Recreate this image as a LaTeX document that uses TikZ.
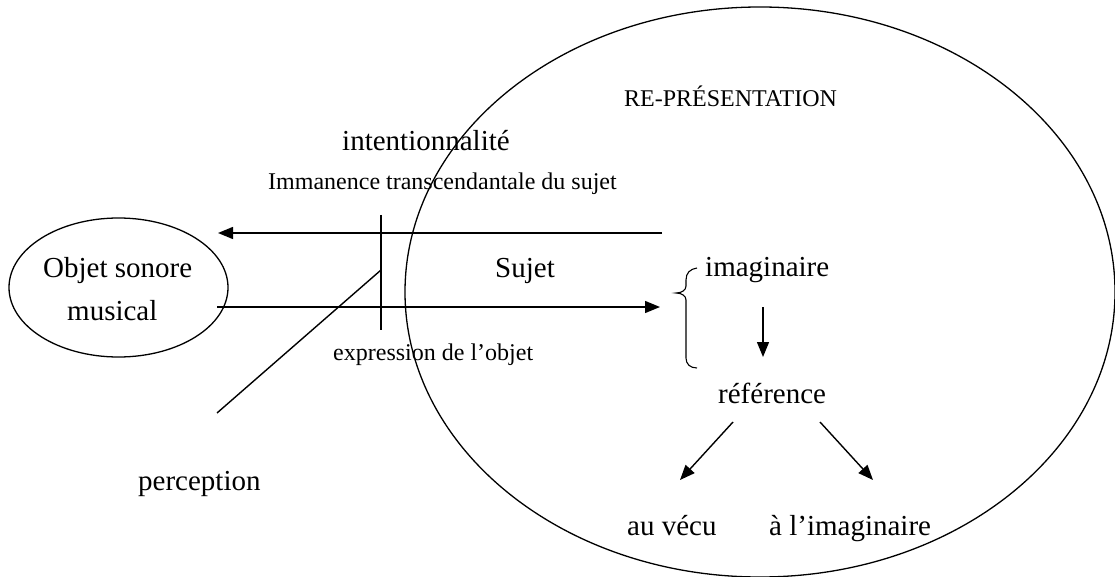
\documentclass[tikz,border=0pt]{standalone}
\usepackage{fontspec}
\setmainfont{Liberation Serif}
\usetikzlibrary{shapes.geometric,arrows.meta}
\begin{document}
\begin{tikzpicture}[x=1pt,y=-1pt,
  big/.style={font=\fontsize{29}{34}\selectfont, inner sep=0, anchor=base west},
  small/.style={font=\fontsize{24}{28}\selectfont, inner sep=0, anchor=base west},
  plain/.style={line width=1.4pt},
  arr/.style={line width=1.4pt, -{Triangle[length=15pt,width=12pt]}},
  oval/.style={draw, ellipse, line width=1.3pt, inner sep=0},
]
\useasboundingbox (0,0) rectangle (1115,577);
\node[oval, minimum width=710pt, minimum height=570pt] (rep) at (760,292) {};
\node[oval, minimum width=219pt, minimum height=139pt] (obj) at (118.5,287.5) {};

\node[big] (objt) at (43,277) {Objet sonore};
\node[big] (mus) at (67,320) {musical};
\node[big] (int) at (342,151) {intentionnalité};
\node[small] (imm) at (268,190) {Immanence transcendantale du sujet};
\node[big] (suj) at (495,277) {Sujet};
\node[small] (expr) at (333,360) {expression de l’objet};
\node[big] (perc) at (138,490) {perception};
\node[small] (repr) at (624,107) {RE-PRÉSENTATION};
\node[big] (imag) at (705,276) {imaginaire};
\node[big] (ref) at (718,403) {référence};
\node[big] (vecu) at (627,535) {au vécu};
\node[big] (aimag) at (769,535) {à l’imaginaire};

\coordinate (a1s) at (662,233); \coordinate (a1e) at (218,233);
\coordinate (a2s) at (217,307); \coordinate (a2e) at (660,307);
\coordinate (vt) at (381,215); \coordinate (vb) at (381,330);
\coordinate (ds) at (381,270); \coordinate (de) at (217,413);
\coordinate (dn1) at (763,307); \coordinate (dn2) at (763,357);
\coordinate (l1) at (733,422); \coordinate (l2) at (680,480);
\coordinate (r1) at (820,422); \coordinate (r2) at (873,480);

\draw[arr] (a1s) -- (a1e);
\draw[arr] (a2s) -- (a2e);
\draw[plain] (vt) -- (vb);
\draw[plain] (ds) -- (de);
\draw[arr] (dn1) -- (dn2);
\draw[arr] (l1) -- (l2);
\draw[arr] (r1) -- (r2);

\draw[line width=1.1pt] (697,268) .. controls (690,269) and (686,273) .. (686,280) -- (686,286) .. controls (686,290) and (682,293) .. (676,293) .. controls (682,293) and (686,296) .. (686,300) -- (686,358) .. controls (686,364) and (690,368) .. (697,368);
\end{tikzpicture}
\end{document}
